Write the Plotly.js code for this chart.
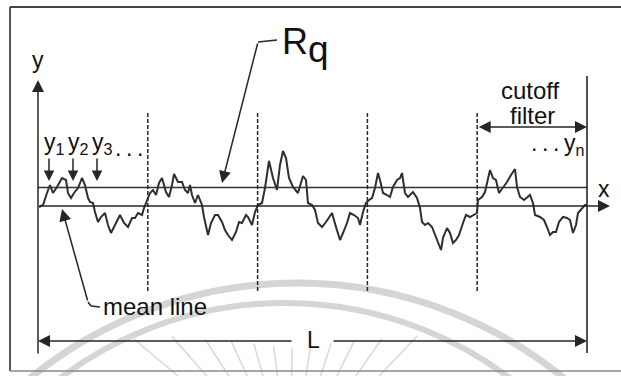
<!DOCTYPE html>
<html>
<head>
<meta charset="utf-8">
<script src="https://cdn.plot.ly/plotly-3.0.1.min.js"></script>
<style>html,body{margin:0;padding:0;background:#fff;}#chart{width:621px;height:376px;}</style>
</head>
<body>
<div id="chart"></div>
<script>
// ---- data (x along the profile, y height from the mean line) ----
const L = 549;            // evaluation length
const nCutoff = 5;        // number of cutoff (sampling) lengths in L
const Rq = 18.5;          // RMS roughness line height
const profileX = [1,5,9,12,15,19,24,28,30,33,36,40,44,47,50,52,55,57,60,63,67,70,73,77,82,86,90,94,97,100,104,106,109,112,115,118,121,124,128,131,134,136,140,144,147,150,152,154,157,160,164,166,170,173,177,180,184,187,190,194,198,201,204,208,210,214,217,220,224,227,231,235,239,242,245,248,251,255,260,263,265,268,270,274,277,280,284,288,291,294,298,302,305,309,312,316,320,322,325,328,331,334,337,340,342,345,349,352,355,359,362,364,367,370,375,379,382,384,387,390,394,397,400,403,405,409,412,415,418,421,425,428,432,435,439,440,444,447,450,452,455,458,461,465,469,473,477,479,482,486,489,492,495,497,502,506,509,512,515,518,521,525,529,532,535,538,540,544,547,549];
const profileY = [-1,1,13,21,13,19,28,26,13,8,13,18,28,21,8,4,3,-6,-16,-11,-7,-19,-27,-19,-9,-17,-21,-12,-12,-7,-9,-2,6,13,16,11,23,28,14,9,21,32,24,24,16,13,21,11,3,11,1,-11,-29,-17,-9,-9,-16,-24,-29,-34,-26,-16,-17,-9,-11,-19,-6,1,3,18,45,28,16,41,55,48,28,19,13,24,30,26,3,1,-4,-17,-21,-16,-11,-7,-21,-34,-27,-17,-7,-9,-12,-19,-6,3,6,8,18,33,26,13,11,9,19,26,28,33,13,9,14,8,-2,-16,-19,-17,-21,-29,-37,-44,-32,-22,-27,-37,-34,-29,-17,-9,-11,-9,-7,6,9,14,29,36,28,26,13,18,24,31,37,19,9,6,9,11,3,-9,-11,-14,-21,-29,-26,-26,-16,-11,-12,-14,-27,-19,-7,-2,1,1];
const sampleLabels = ['y<sub>1</sub>','y<sub>2</sub>','y<sub>3</sub>'];
const sampleX = [11, 35, 59];

// ---- styling ----
const INK = '#262626';
const FONT = 'Liberation Sans, Arial, Helvetica, sans-serif';

function arrow(hx, hy, tx, ty, extra) {
  return Object.assign({
    xref:'x', yref:'y', axref:'x', ayref:'y',
    x:hx, y:hy, ax:tx, ay:ty, text:'', showarrow:true,
    arrowhead:2, arrowsize:1.6, arrowwidth:1.5, arrowcolor:INK, standoff:0
  }, extra || {});
}
function label(x, y, t, size, xa, extra) {
  return Object.assign({
    xref:'x', yref:'y', x:x, y:y, text:t, showarrow:false,
    xanchor:xa || 'center', yanchor:'middle',
    font:{family:FONT, size:size, color:'#111'}
  }, extra || {});
}
function seg(x0, y0, x1, y1, w, col, dash, layer) {
  return {type:'line', xref:'x', yref:'y', x0:x0, y0:y0, x1:x1, y1:y1,
          line:{color:col || INK, width:w || 1.6, dash:dash || 'solid'}, layer:layer || 'above'};
}

const shapes = [];
// faint watermark arcs and rays behind everything
shapes.push({type:'circle', xref:'x', yref:'y', x0:-163, x1:681, y0:-921, y1:-77,
             line:{color:'#d5d5d5', width:7}, fillcolor:'rgba(0,0,0,0)', layer:'below'});
shapes.push({type:'circle', xref:'x', yref:'y', x0:-127, x1:621, y0:-845, y1:-97,
             line:{color:'#d5d5d5', width:6}, fillcolor:'rgba(0,0,0,0)', layer:'below'});
for (let a = -50; a <= 50; a += 8.5) {
  const r = Math.PI * a / 180;
  const cx = 252, cy = -264;
  const rOut = (122 + 14 * Math.abs(a) / 50) / Math.cos(r);
  shapes.push(seg(cx + Math.sin(r) * 60, cy + Math.cos(r) * 60,
                  cx + Math.sin(r) * rOut, cy + Math.cos(r) * rOut, 1.6, '#dadada', 'solid', 'below'));
}
// outer frame
shapes.push(seg(-28, 199, 583, 199, 1.8, '#444'));
shapes.push(seg(-28, 199, -28, -165, 1.8, '#444'));
shapes.push(seg(-28, -165, 583, -165, 1.4, '#8a8a8a'));
// end line of the evaluation length
shapes.push(seg(L, 130, L, -147, 1.6));
// cutoff (sampling length) boundaries
for (let k = 1; k < nCutoff; k++) {
  const xk = k * L / nCutoff;
  shapes.push(seg(xk, 93, xk, -86, 1.5, INK, '4px,2px'));
}
// leader corners
shapes.push(seg(50, -96, 53, -100, 1.5));
shapes.push(seg(53, -100, 62, -101, 1.5));
shapes.push(seg(220, 164, 239, 166, 1.6));

const annotations = [
  // axes
  arrow(0, 126, 0, -149),
  arrow(572, 0, 0, 0),
  label(-0.5, 146, 'y', 23),
  label(566, 17, 'x', 23),
  // evaluation length L
  arrow(0, -135, 255, -135),
  arrow(L, -135, 294, -135),
  label(L / 2 + 1, -134, 'L', 23),
  // cutoff filter
  arrow(L, 79, 4 * L / nCutoff, 79, {arrowside:'end+start'}),
  label(492, 116, 'cutoff', 24),
  label(494, 91, 'filter', 24),
  label(548, 62, '.\u2009.\u2009.\u2009y<sub>n</sub>', 23, 'right'),
  // mean line
  arrow(24, -3, 50, -96),
  label(63, -100, 'mean line', 24, 'left'),
  // Rq
  arrow(184, 23, 220, 164),
  label(242, 165, 'R', 36, 'left'),
  label(268, 157, 'q', 37, 'left'),
  // sample points
  label(91, 58, '.\u2009.\u2009.', 23),
];
sampleLabels.forEach((t, i) => {
  annotations.push(label(sampleX[i] + 5, 63, t, 23));
  annotations.push(arrow(sampleX[i], 25, sampleX[i], 49, {arrowsize:1.4}));
});

const traces = [
  {x: profileX, y: profileY, type:'scatter', mode:'lines',
   line:{color:'#2e2e2e', width:2}, hoverinfo:'skip'},
  {x: [0, L], y: [Rq, Rq], type:'scatter', mode:'lines',
   line:{color:'#333', width:1.7}, hoverinfo:'skip'}
];

const layout = {
  width:621, height:376,
  margin:{l:0, r:0, t:0, b:0, pad:0},
  paper_bgcolor:'#ffffff', plot_bgcolor:'#ffffff',
  showlegend:false,
  xaxis:{range:[-38, 583], visible:false, fixedrange:true},
  yaxis:{range:[-170, 206], visible:false, fixedrange:true},
  shapes:shapes, annotations:annotations,
  font:{family:FONT}
};
Plotly.newPlot('chart', traces, layout, {staticPlot:true, displayModeBar:false});
</script>
</body>
</html>
